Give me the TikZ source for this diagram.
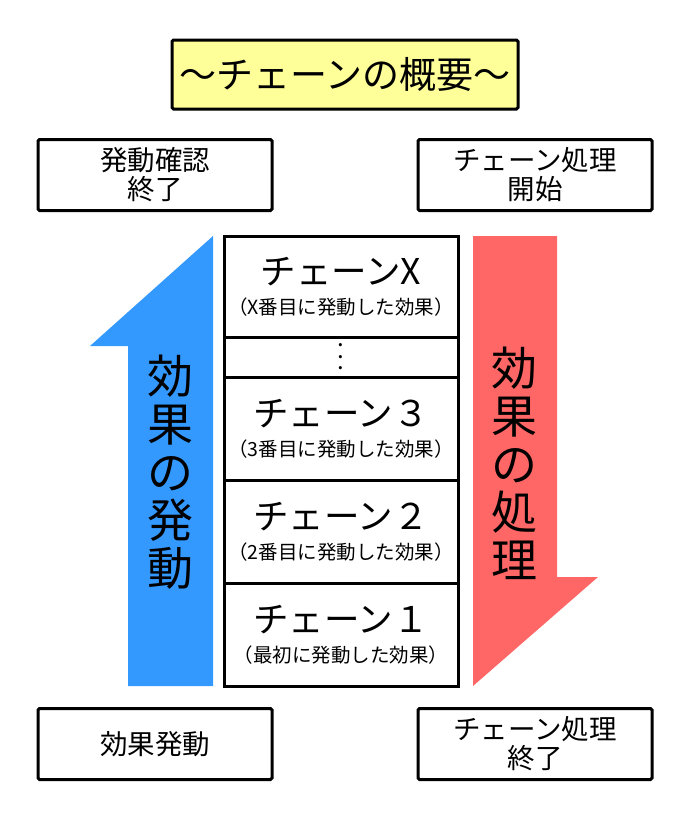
\documentclass[tikz,border=0pt]{standalone}
\usepackage{fontspec}
\setmainfont{Noto Sans CJK JP}
\usetikzlibrary{positioning}
\definecolor{titlefill}{HTML}{FFFF99}
\definecolor{upblue}{HTML}{3399FF}
\definecolor{downred}{HTML}{FF6666}
\newcommand{\chainlabel}[2]{{\fontsize{35.5}{35.5}\selectfont #1}\\[1pt]{\fontsize{19.5}{19.5}\selectfont #2}}
\newcommand{\gapdots}{\vbox{\baselineskip11.5pt\lineskiplimit-100pt\hbox{.}\hbox{.}\hbox{.}}}

\begin{document}
\begin{tikzpicture}[
  x=1pt, y=-1pt,
  box/.style={draw=black, line width=3pt, rounded corners=1.6pt, align=center,
              inner sep=0pt, outer sep=0pt, minimum width=234pt, minimum height=71pt,
              fill=white, font=\fontsize{27.5}{29}\selectfont},
  title/.style={box, fill=titlefill, minimum width=346pt, minimum height=69pt,
                font=\fontsize{37}{37}\selectfont},
  chain/.style={box, rounded corners=0pt, minimum height=103pt},
  gap/.style={chain, minimum height=40pt, font=\fontsize{24}{24}\selectfont},
  vtext/.style={align=center, inner sep=0pt, font=\fontsize{46}{48}\selectfont},
]
\useasboundingbox (0,0) rectangle (691,819);

%% arrows
\fill[upblue]  (128,686) -- (213,686) -- (213,236) -- (90,346) -- (128,346) -- cycle;
\fill[downred] (473,236) -- (557,236) -- (557,577) -- (598,577) -- (473,686) -- cycle;
\node[vtext] (act) at (170,472) {効\\果\\の\\発\\動};
\node[vtext] (res) at (514,463) {効\\果\\の\\処\\理};

%% title
\node[title] (head) at (345,74.5) {～チェーンの概要～};

%% start / end boxes
\node[box] (chkend)  at (155,175) {発動確認\\終了};
\node[box] (procbeg) at (535,175) {チェーン処理\\開始};
\node[box] (fire)    at (155,744) {効果発動};
\node[box] (procend) at (535,744) {チェーン処理\\終了};

%% chain stack
\node[chain, minimum height=101pt] (cx) at (341,286.5)
  {\chainlabel{チェーンX}{（X番目に発動した効果）}};
\node[gap, below=0pt of cx] (cdots) {\gapdots};
\node[chain, below=0pt of cdots] (c3) {\chainlabel{チェーン３}{（3番目に発動した効果）}};
\node[chain, below=0pt of c3] (c2) {\chainlabel{チェーン２}{（2番目に発動した効果）}};
\node[chain, below=0pt of c2] (c1) {\chainlabel{チェーン１}{（最初に発動した効果）}};
\end{tikzpicture}
\end{document}
